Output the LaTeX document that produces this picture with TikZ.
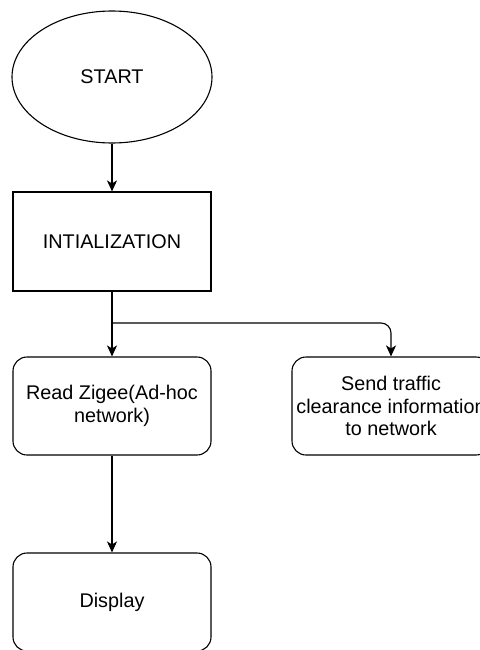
\documentclass[tikz,border=0pt]{standalone}
\usepackage{fontspec}
\setmainfont{Liberation Sans}
\usetikzlibrary{arrows.meta,shapes.geometric}

\tikzset{
  flow/.style={draw=black, line width=1.1pt, fill=white, align=center,
    inner sep=0pt, font=\fontsize{19.8}{22.5}\selectfont},
  terminal/.style={flow, ellipse, minimum width=200pt, minimum height=132pt},
  procbox/.style={flow, rectangle, minimum width=198pt, minimum height=99pt},
  roundbox/.style={flow, rectangle, rounded corners=14pt,
    minimum width=198pt, minimum height=98pt},
  link/.style={draw=black, line width=1.1pt,
    -{Stealth[length=11pt,width=10pt,inset=3pt]}}
}

\begin{document}
\begin{tikzpicture}[x=1pt,y=-1pt]
  \useasboundingbox (0,0) rectangle (479,650);

  % flow steps
  \node[terminal]  (start)   at (112,77)  {START};
  \node[procbox]   (init)    at (112,241.5) {INTIALIZATION};
  \node[roundbox]  (read)    at (112,406) {Read Zigee(Ad-hoc\\network)};
  \node[roundbox]  (send)    at (391,406) {Send traffic\\clearance information\\to network};
  \node[roundbox]  (display) at (112,602) {Display};

  % branch point below the initialisation step
  \coordinate (split) at (112,323);

  % connectors
  \draw[link] (start) -- (init);
  \draw[link] (init) -- (read);
  \draw[link, rounded corners=10pt] (split) -| (send.north);
  \draw[link] (read) -- (display);
\end{tikzpicture}
\end{document}
